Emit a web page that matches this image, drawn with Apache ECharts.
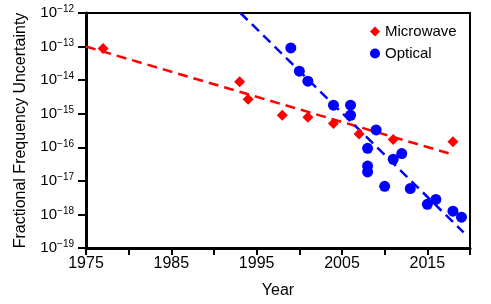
<!DOCTYPE html>
<html>
<head>
<meta charset="utf-8">
<script src="https://cdn.jsdelivr.net/npm/echarts@6/dist/echarts.min.js"></script>
<style>html,body{margin:0;padding:0;background:#fff}#c{width:491px;height:304px}</style>
</head>
<body>
<div id="c"></div>
<script>
var microwaveYears = [1977, 1993, 1994, 1998, 2001, 2004, 2007, 2011, 2018];
var microwaveValues = [0.88e-13, 0.9e-14, 2.7e-15, 0.9e-15, 0.78e-15, 5.1e-16, 2.5e-16, 1.7e-16, 1.45e-16];
var opticalYears = [1999, 2000, 2001, 2004, 2006, 2006, 2008, 2008, 2008, 2009, 2010, 2011, 2012, 2013, 2015, 2016, 2018, 2019];
var opticalValues = [9.1e-14, 1.85e-14, 9.3e-15, 1.8e-15, 1.8e-15, 0.9e-15, 0.93e-16, 2.75e-17, 1.85e-17, 3.3e-16, 6.9e-18, 4.4e-17, 6.5e-17, 5.9e-18, 2.0e-18, 2.8e-18, 1.25e-18, 0.83e-18];
var microwaveFitYears = [1975, 2017.6];
var microwaveFitValues = [1.0e-13, 6.5e-17];
var opticalFitYears = [1993.1, 2019.25];
var opticalFitValues = [1.0e-12, 2.9e-19];
var xTickLabels = ['1975', '1985', '1995', '2005', '2015'];
var yTickExponents = [-19, -18, -17, -16, -15, -14, -13, -12];

function pairs(xs, ys) { return xs.map(function (x, i) { return [x, ys[i]]; }); }

var FONT = 'Liberation Sans, Arial, sans-serif';
var chart = echarts.init(document.getElementById('c'), null, {renderer: 'canvas'});
chart.setOption({
  animation: false,
  backgroundColor: '#fff',
  textStyle: {fontFamily: FONT, color: '#000'},
  grid: {left: 86, right: 21, top: 13, bottom: 54, show: true, borderColor: '#000', borderWidth: 2, containLabel: false},
  legend: {
    orient: 'vertical', left: 365, top: 19, itemGap: 7, itemWidth: 10, itemHeight: 10,
    textStyle: {fontSize: 15, fontFamily: FONT, color: '#000'},
    data: [{name: 'Microwave', icon: 'diamond'}, {name: 'Optical', icon: 'circle'}]
  },
  xAxis: {
    type: 'value', min: 1975, max: 2020, interval: 5,
    name: 'Year', nameLocation: 'middle', nameGap: 35,
    nameTextStyle: {fontSize: 16, fontFamily: FONT, color: '#000'},
    axisLine: {show: true, onZero: false, lineStyle: {color: '#000', width: 3}},
    axisTick: {show: true, length: 7, lineStyle: {color: '#000', width: 2}},
    splitLine: {show: false},
    axisLabel: {
      fontSize: 16, fontFamily: FONT, color: '#000', margin: 8,
      formatter: function (v) { var s = String(Math.round(v)); return xTickLabels.indexOf(s) >= 0 ? s : ''; }
    }
  },
  yAxis: {
    type: 'log', logBase: 10, min: 1e-19, max: 1e-12,
    name: 'Fractional Frequency Uncertainty', nameLocation: 'middle', nameGap: 57,
    nameTextStyle: {fontSize: 16, fontFamily: FONT, color: '#000'},
    axisLine: {show: true, onZero: false, lineStyle: {color: '#000', width: 3}},
    axisTick: {show: true, length: 8, lineStyle: {color: '#000', width: 2}},
    splitLine: {show: false},
    axisLabel: {
      margin: 12, fontFamily: FONT, color: '#000',
      formatter: function (v) {
        var e = Math.round(Math.log10(v));
        if (yTickExponents.indexOf(e) < 0) return '';
        return '{b|10}{s|\u2212' + Math.abs(e) + '}';
      },
      rich: {
        b: {fontSize: 15, fontFamily: FONT, color: '#000', lineHeight: 17},
        s: {fontSize: 10, fontFamily: FONT, color: '#000', lineHeight: 10, verticalAlign: 'top'}
      }
    }
  },
  series: [
    {
      name: 'MicrowaveFit', type: 'line', data: pairs(microwaveFitYears, microwaveFitValues),
      showSymbol: false, symbol: 'none', silent: true, z: 1,
      lineStyle: {color: '#ff0000', width: 2.5, type: [10, 6]}
    },
    {
      name: 'OpticalFit', type: 'line', data: pairs(opticalFitYears, opticalFitValues),
      showSymbol: false, symbol: 'none', silent: true, z: 1,
      lineStyle: {color: '#0000ff', width: 2.5, type: [10, 6]}
    },
    {
      name: 'Microwave', type: 'scatter', symbol: 'diamond', symbolSize: 11,
      data: pairs(microwaveYears, microwaveValues), itemStyle: {color: '#ff0000', opacity: 1}, z: 3
    },
    {
      name: 'Optical', type: 'scatter', symbol: 'circle', symbolSize: 11,
      data: pairs(opticalYears, opticalValues), itemStyle: {color: '#0000ff', opacity: 1}, z: 3
    }
  ]
});
</script>
</body>
</html>
